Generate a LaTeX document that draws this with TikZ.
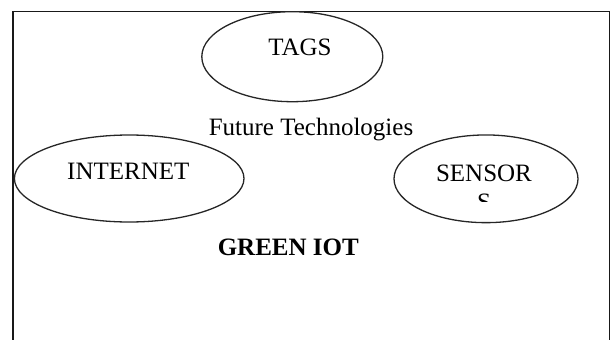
\documentclass[tikz,border=0pt]{standalone}
\usepackage{fontspec}
\setmainfont{Liberation Serif}
\usetikzlibrary{shapes.geometric}
\begin{document}
\begin{tikzpicture}[x=1pt,y=-1pt,
  oval/.style={ellipse, draw=black!85, line width=1.3pt, inner sep=0pt},
  lbl/.style={font=\fontsize{25}{31}\selectfont, inner sep=0pt, anchor=base},
  frame/.style={draw=black!90, line width=1.9pt}]
\useasboundingbox (0,0) rectangle (611,340);
\clip (0,0) rectangle (611,340);

% outer frame, open at the bottom edge
\coordinate (fbl) at (13.3,350);
\coordinate (ftl) at (13.3,11.5);
\coordinate (ftr) at (609.5,11.5);
\coordinate (fbr) at (609.5,350);
\draw[frame] (fbl) -- (ftl) -- (ftr) -- (fbr);

% the three ovals
\node[oval, minimum width=181pt, minimum height=90pt] (tags) at (292.3,56.7) {};
\node[oval, minimum width=229.6pt, minimum height=87pt] (internet) at (129.2,178.5) {};
\node[oval, minimum width=184pt, minimum height=87.7pt] (sensors) at (486,178.8) {};

% labels
\node[lbl] (tagstxt) at (300,55) {TAGS};
\node[lbl] (future) at (311,135) {Future Technologies};
\node[lbl] (internettxt) at (128.3,179.3) {INTERNET};
\node[lbl] (sensortxt) at (484,181.5) {SENSOR};
\begin{scope}
  \clip (394,150) rectangle (578,201.5);
  \node[lbl] (sensorS) at (484,210.5) {S};
\end{scope}
\node[lbl, font=\fontsize{25}{31}\selectfont\bfseries] (green) at (288.3,255) {GREEN IOT};
\end{tikzpicture}
\end{document}
